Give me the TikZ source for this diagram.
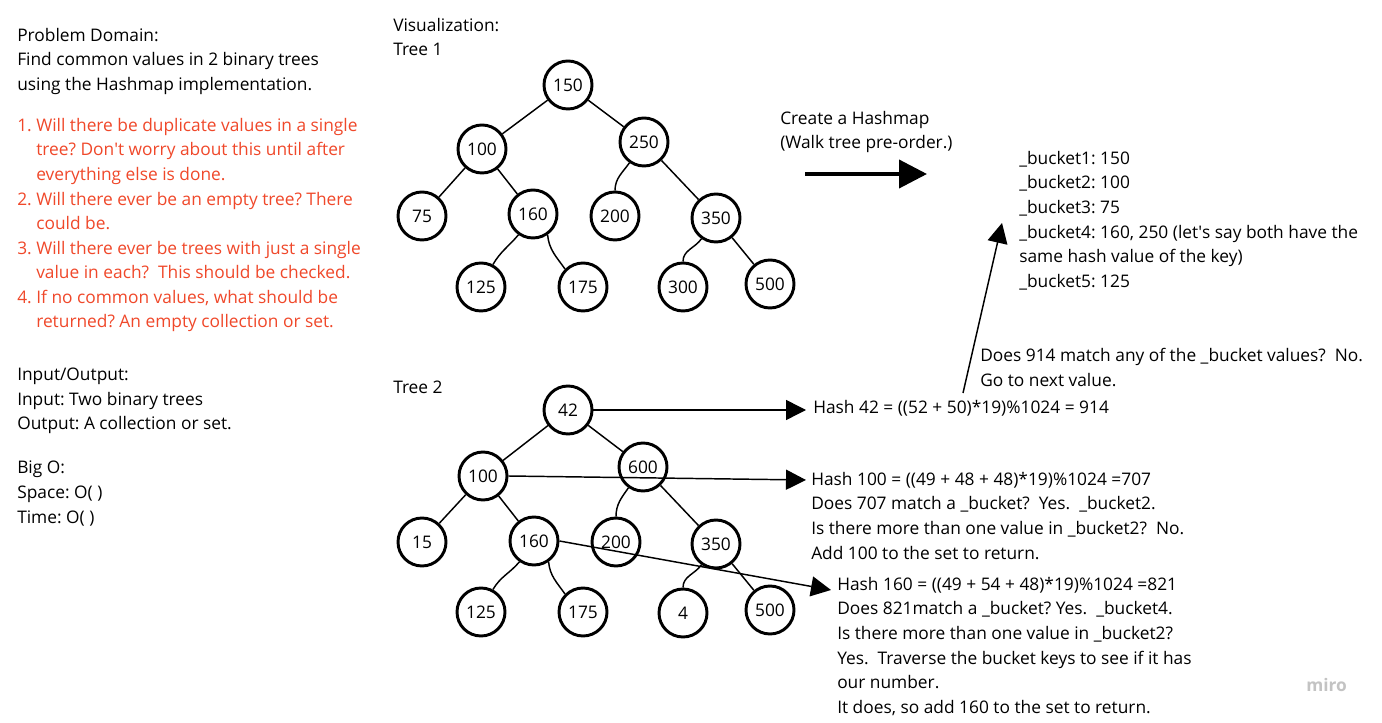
\documentclass[tikz,border=0pt]{standalone}
\usepackage{fontspec}
\setmainfont{Open Sans}
\usetikzlibrary{arrows.meta}
\definecolor{qred}{RGB}{240,72,42}
\definecolor{mirogray}{RGB}{195,195,195}
\newcommand{\sq}{\textquotesingle}
\tikzset{
  treenode/.style={circle,draw=black,line width=2.2pt,minimum size=36pt,inner sep=0pt,font=\fontsize{13}{14}\selectfont},
  edge/.style={line width=1.1pt},
  txt/.style={anchor=north west,inner sep=0pt,align=left,font=\fontsize{13}{18.4}\selectfont},
  thinarrow/.style={line width=1.1pt,-{Triangle[length=15pt,width=15pt]}},
  thickarrow/.style={line width=3pt,-{Triangle[length=21pt,width=21pt]}},
}
\begin{document}
\frenchspacing
\begin{tikzpicture}[x=0.75pt,y=-0.75pt]
\useasboundingbox[fill=white] (0,0) rectangle (1382,723);
% left text
\node[txt] (pd) at (17,28) {Problem Domain:\\Find common values in 2 binary trees\\using the Hashmap implementation.};
\node[txt,text=qred] (qs) at (17,118) {1. Will there be duplicate values in a single\\\hphantom{1. }tree? Don\sq t worry about this until after\\\hphantom{1. }everything else is done.\\2. Will there ever be an empty tree? There\\\hphantom{2. }could be.\\3. Will there ever be trees with just a single\\\hphantom{3. }value in each?\ \ This should be checked.\\4. If no common values, what should be\\\hphantom{4. }returned? An empty collection or set.};
\node[txt] (io) at (17,368) {Input/Output:\\Input: Two binary trees\\Output: A collection or set.};
\node[txt] (bo) at (17,461) {Big O:\\Space: O( )\\Time: O( )};
% middle labels
\node[txt] (vis) at (393,18) {Visualization:\\Tree 1};
\node[txt] (t2) at (393,381) {Tree 2};
\node[txt] (cr) at (780,111) {Create a Hashmap\\(Walk tree pre-order.)};
% tree 1
\node[treenode] (a150) at (568,85) {150};
\node[treenode] (a100) at (482,149) {100};
\node[treenode] (a250) at (644,142) {250};
\node[treenode] (a75) at (422,216) {75};
\node[treenode] (a160) at (533,214) {160};
\node[treenode] (a200) at (615,216) {200};
\node[treenode] (a350) at (716,218) {350};
\node[treenode] (a125) at (481,287) {125};
\node[treenode] (a175) at (583,287) {175};
\node[treenode] (a300) at (683,287) {300};
\node[treenode] (a500) at (770,284) {500};
\draw[edge] (a150) -- (a100);
\draw[edge] (a150) -- (a250);
\draw[edge] (a100) -- (a75);
\draw[edge] (a100) -- (a160);
\draw[edge] (a160.-125) to[out=-130,in=60] (a125.62);
\draw[edge] (a160.-55) to[out=-85,in=125] (a175.135);
\draw[edge] (a250.-125) to[out=-125,in=90] (a200.90);
\draw[edge] (a250) -- (a350);
\draw[edge] (a350.-125) to[out=-125,in=90] (a300.90);
\draw[edge] (a350) -- (a500);
% tree 2
\node[treenode] (b42) at (568,410) {42};
\node[treenode] (b100) at (483,476) {100};
\node[treenode] (b600) at (643,467) {600};
\node[treenode] (b15) at (422,542) {15};
\node[treenode] (b160) at (534,541) {160};
\node[treenode] (b200) at (616,542) {200};
\node[treenode] (b350) at (716,544) {350};
\node[treenode] (b125) at (481,612) {125};
\node[treenode] (b175) at (583,612) {175};
\node[treenode] (b4) at (683,613) {4};
\node[treenode] (b500) at (770,610) {500};
\draw[edge] (b42) -- (b100);
\draw[edge] (b42) -- (b600);
\draw[edge] (b100) -- (b15);
\draw[edge] (b100) -- (b160);
\draw[edge] (b160.-125) to[out=-130,in=60] (b125.62);
\draw[edge] (b160.-55) to[out=-85,in=125] (b175.135);
\draw[edge] (b600.-125) to[out=-125,in=90] (b200.90);
\draw[edge] (b600) -- (b350);
\draw[edge] (b350.-125) to[out=-125,in=90] (b4.90);
\draw[edge] (b350) -- (b500);
% right texts
\node[txt] (bk) at (1019,151) {\_bucket1: 150\\\_bucket2: 100\\\_bucket3: 75\\\_bucket4: 160, 250 (let\sq s say both have the\\same hash value of the key)\\\_bucket5: 125};
\node[txt] (d914) at (980,348) {Does 914 match any of the \_bucket values?\ \ No.\\Go to next value.};
\node[anchor=base west,inner sep=0pt,font=\fontsize{13}{18.4}\selectfont] (h42) at (813,414) {Hash 42 = ((52 + 50)*19)\%1024 = 914};
\node[txt] (h100) at (811,472) {Hash 100 = ((49 + 48 + 48)*19)\%1024 =707\\Does 707 match a \_bucket?\ \ Yes.\ \ \_bucket2.\\Is there more than one value in \_bucket2?\ \ No.\\Add 100 to the set to return.};
\node[txt] (h160) at (837,577) {Hash 160 = ((49 + 54 + 48)*19)\%1024 =821\\Does 821match a \_bucket? Yes.\ \ \_bucket4.\\Is there more than one value in \_bucket2?\\Yes.\ \ Traverse the bucket keys to see if it has\\our number.\\It does, so add 160 to the set to return.};
\node[anchor=west,inner sep=0pt,text=mirogray,font=\fontsize{13}{14}\selectfont\bfseries] (miro) at (1306,685) {miro};
% arrows
\coordinate (hs) at (805,174);
\coordinate (he) at (927,174);
\draw[thickarrow] (hs) -- (he);
\coordinate (us) at (963,393);
\coordinate (ue) at (1002,223);
\draw[thinarrow] (us) -- (ue);
\coordinate (e42) at (806,410);
\coordinate (e100) at (806,480);
\coordinate (e160) at (831,590);
\draw[thinarrow] (b42.east) -- (e42);
\draw[thinarrow] (b100.east) -- (e100);
\draw[thinarrow] (b160.east) -- (e160);
\end{tikzpicture}
\end{document}
